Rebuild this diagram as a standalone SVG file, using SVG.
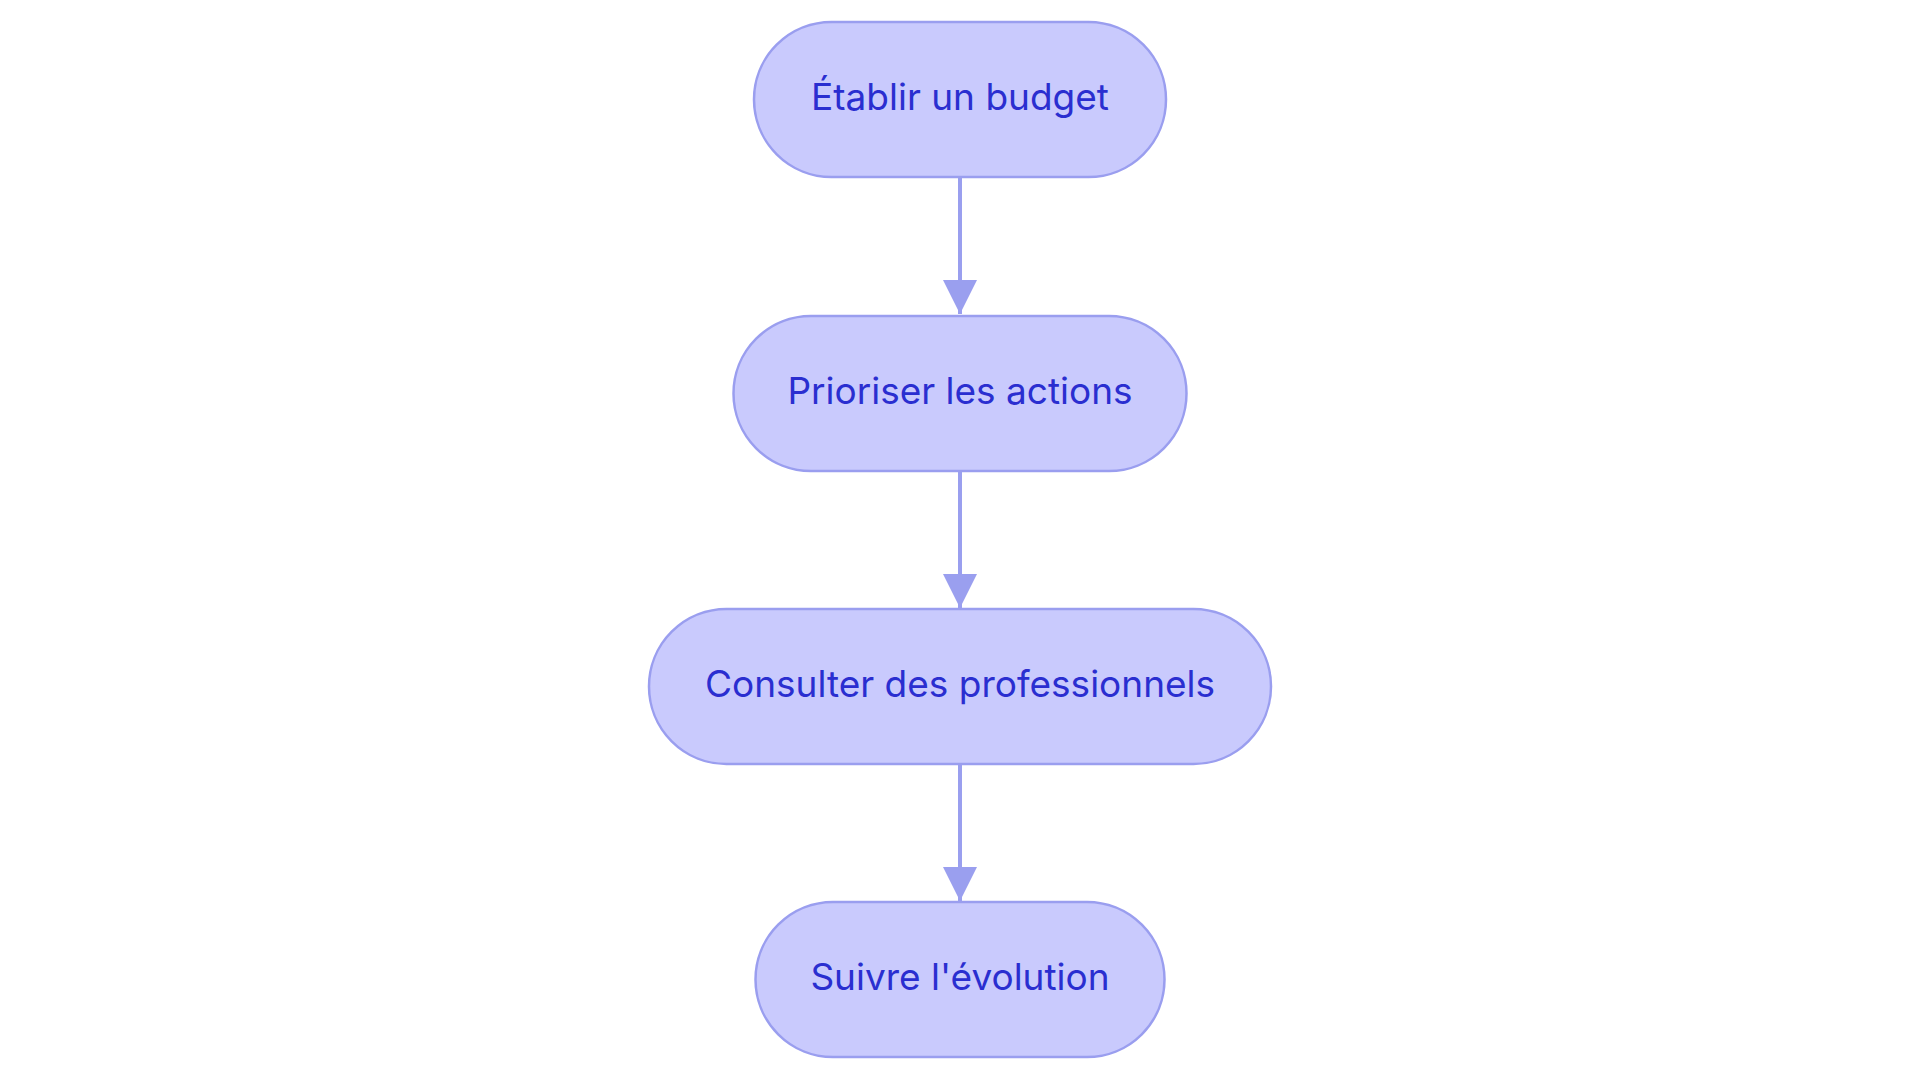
<svg xmlns="http://www.w3.org/2000/svg" width="1920" height="1083" viewBox="0 0 1920 1083">
<defs>
<style>
.node rect{fill:#C9CAFD;stroke:#9A9EEF;stroke-width:2.5}
.node text{font-family:Inter,"Open Sans","Liberation Sans",sans-serif;font-size:37px;fill:#2A2ED0;text-anchor:middle}
.edge{stroke:#9A9FEF;stroke-width:4;fill:none}
</style>
<marker id="arrow" markerUnits="userSpaceOnUse" markerWidth="36" markerHeight="34" refX="34" refY="17" orient="auto">
<path d="M0,0 L34,17 L0,34 Z" fill="#9A9FEF"/>
</marker>
</defs>
<rect width="1920" height="1083" fill="#FFFFFF"/>
<g id="connectors">
<path class="edge" d="M960,178 L960,314" marker-end="url(#arrow)"/>
<path class="edge" d="M960,471 L960,608" marker-end="url(#arrow)"/>
<path class="edge" d="M960,765 L960,901" marker-end="url(#arrow)"/>
</g>
<g id="n1" class="node">
<rect x="754" y="22" width="412" height="155" rx="77.5" ry="77.5"/>
<text x="960" y="110">Établir un budget</text>
</g>
<g id="n2" class="node">
<rect x="733.5" y="316" width="453" height="155" rx="77.5" ry="77.5"/>
<text x="960" y="404">Prioriser les actions</text>
</g>
<g id="n3" class="node">
<rect x="649" y="609" width="622" height="155" rx="77.5" ry="77.5"/>
<text x="960" y="697">Consulter des professionnels</text>
</g>
<g id="n4" class="node">
<rect x="755.5" y="902" width="409" height="155" rx="77.5" ry="77.5"/>
<text x="960" y="990">Suivre l'évolution</text>
</g>
</svg>
